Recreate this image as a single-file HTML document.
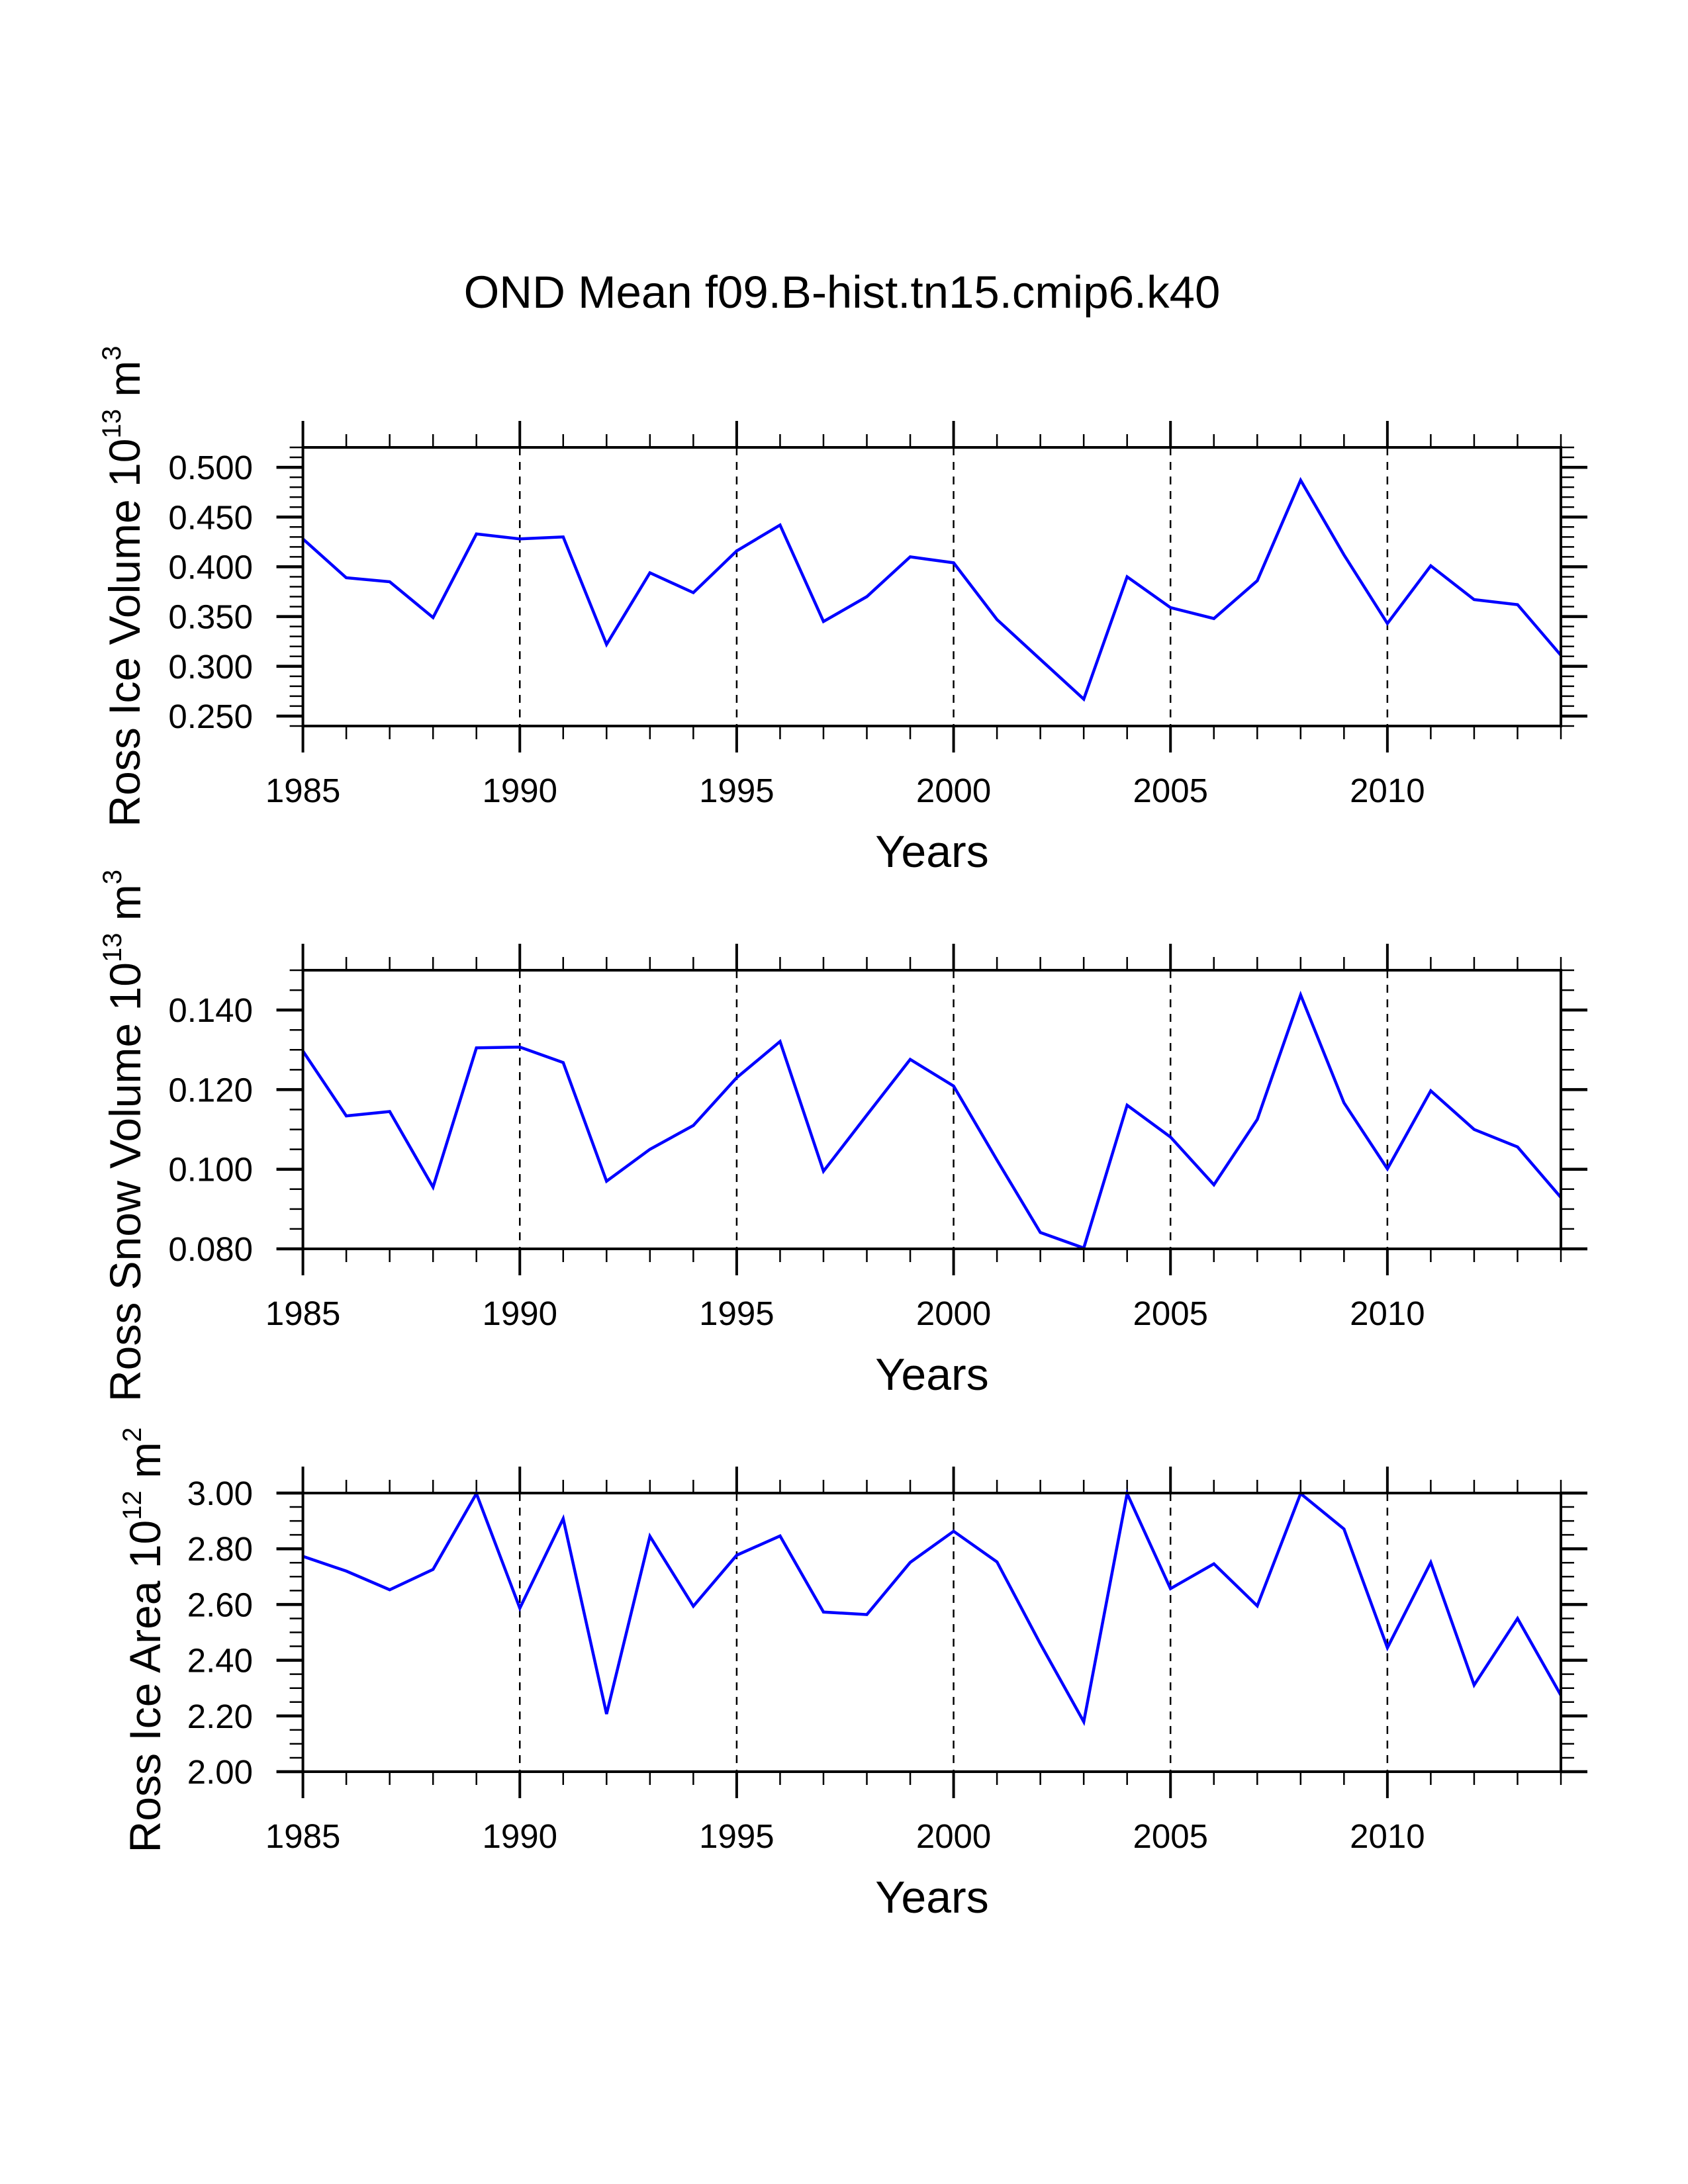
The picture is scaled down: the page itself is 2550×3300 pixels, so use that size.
<!DOCTYPE html>
<html>
<head>
<meta charset="utf-8">
<style>
html,body{margin:0;padding:0;background:#fff;}
svg{display:block;}
text{font-family:"Liberation Sans",Arial,sans-serif;fill:#000;}
</style>
</head>
<body>
<svg id="chart" width="2550" height="3300" viewBox="0 0 2550 3300" xmlns="http://www.w3.org/2000/svg">
<rect x="0" y="0" width="2550" height="3300" fill="#fff"/>
<text x="1272" y="465" font-size="69" text-anchor="middle">OND Mean f09.B-hist.tn15.cmip6.k40</text>
<text transform="translate(211,886) rotate(-90)" font-size="66" text-anchor="middle">Ross Ice Volume 10<tspan font-size="40" dy="-29">13</tspan><tspan dy="29"> m</tspan><tspan font-size="40" dy="-29">3</tspan></text>
<text transform="translate(212,1716) rotate(-90)" font-size="66" text-anchor="middle">Ross Snow Volume 10<tspan font-size="40" dy="-29">13</tspan><tspan dy="29"> m</tspan><tspan font-size="40" dy="-29">3</tspan></text>
<text transform="translate(242,2478) rotate(-90)" font-size="66" text-anchor="middle">Ross Ice Area 10<tspan font-size="40" dy="-29">12</tspan><tspan dy="29"> m</tspan><tspan font-size="40" dy="-29">2</tspan></text>
<text x="1408" y="1310" font-size="68" text-anchor="middle">Years</text>
<text x="1408" y="2100" font-size="68" text-anchor="middle">Years</text>
<text x="1408" y="2890" font-size="68" text-anchor="middle">Years</text>
</svg>
<script>
const years = [1985,1986,1987,1988,1989,1990,1991,1992,1993,1994,1995,1996,1997,1998,1999,2000,2001,2002,2003,2004,2005,2006,2007,2008,2009,2010,2011,2012,2013,2014];
const xTickLabels = ["1985","1990","1995","2000","2005","2010"];
const iceVolume = [0.428,0.389,0.385,0.349,0.433,0.428,0.430,0.322,0.394,0.374,0.416,0.442,0.345,0.370,0.410,0.404,0.347,0.307,0.267,0.390,0.359,0.348,0.386,0.487,0.412,0.343,0.401,0.367,0.362,0.311];
const snowVolume = [0.1297,0.1134,0.1145,0.0955,0.1305,0.1307,0.1268,0.0970,0.1050,0.1110,0.1230,0.1321,0.0995,0.1136,0.1276,0.1209,0.1023,0.0841,0.0802,0.1161,0.1081,0.0961,0.1125,0.1438,0.1167,0.1001,0.1197,0.1100,0.1056,0.0929];
const iceArea = [2.773,2.720,2.653,2.726,2.998,2.587,2.908,2.207,2.845,2.594,2.777,2.846,2.573,2.564,2.751,2.863,2.753,2.459,2.179,2.998,2.657,2.746,2.595,2.998,2.871,2.445,2.751,2.311,2.550,2.274];
const iceVolumeTicks = ["0.250","0.300","0.350","0.400","0.450","0.500"];
const snowVolumeTicks = ["0.080","0.100","0.120","0.140"];
const iceAreaTicks = ["2.00","2.20","2.40","2.60","2.80","3.00"];

const svg = document.getElementById('chart');
const NS = 'http://www.w3.org/2000/svg';
const X0 = 457.6, X1 = 2358, YR0 = 1985, YR1 = 2014;
function xScale(yr){ return X0 + (yr - YR0) / (YR1 - YR0) * (X1 - X0); }

function mk(tag, attrs){
  const e = document.createElementNS(NS, tag);
  for (const k in attrs) e.setAttribute(k, attrs[k]);
  return e;
}

function panel(cfg){
  const g = mk('g', {});
  
  
  svg.appendChild(g);
  const yScale = v => cfg.bottom - (v - cfg.ymin) / (cfg.ymax - cfg.ymin) * (cfg.bottom - cfg.top);

  for (let yr = 1990; yr <= 2010; yr += 5){
    const l = mk('line', {x1:xScale(yr), x2:xScale(yr), y1:cfg.top, y2:cfg.bottom, stroke:'#000', 'stroke-width':2.5, 'stroke-dasharray':'12 10'});
    
    
    g.appendChild(l);
  }
  for (let yr = YR0; yr <= YR1; yr++){
    const major = (yr % 5 === 0);
    const len = major ? 40 : 20, w = major ? 4 : 2.5;
    const x = xScale(yr);
    const t1 = mk('line', {x1:x, x2:x, y1:cfg.top, y2:cfg.top - len, stroke:'#000', 'stroke-width':w});
    
    
    g.appendChild(t1);
    const t2 = mk('line', {x1:x, x2:x, y1:cfg.bottom, y2:cfg.bottom + len, stroke:'#000', 'stroke-width':w});
    
    
    g.appendChild(t2);
  }
  xTickLabels.forEach(lab => {
    const t = mk('text', {x:xScale(+lab), y:cfg.bottom + 115, 'font-size':51, 'text-anchor':'middle'});
    t.textContent = lab;
    
    
    g.appendChild(t);
  });
  const nMinor = Math.round((cfg.ymax - cfg.ymin) / cfg.minor);
  const per = Math.round(cfg.major / cfg.minor);
  const majOff = Math.round((cfg.firstMajor - cfg.ymin) / cfg.minor);
  for (let i = 0; i <= nMinor; i++){
    const v = cfg.ymin + i * cfg.minor;
    const y = yScale(v);
    const major = ((i - majOff) % per === 0) && i >= majOff;
    const len = major ? 40 : 20, w = major ? 4.5 : 2.5;
    const a = mk('line', {x1:X0, x2:X0 - len, y1:y, y2:y, stroke:'#000', 'stroke-width':w});
    
    
    g.appendChild(a);
    const b = mk('line', {x1:X1, x2:X1 + len, y1:y, y2:y, stroke:'#000', 'stroke-width':w});
    
    
    g.appendChild(b);
  }
  cfg.labels.forEach(lab => {
    const t = mk('text', {x:382, y:yScale(+lab) + 18, 'font-size':51, 'text-anchor':'end'});
    t.textContent = lab;
    
    
    g.appendChild(t);
  });
  const pts = cfg.values.map((v, i) => xScale(years[i]).toFixed(1) + ',' + yScale(v).toFixed(1)).join(' ');
  const pl = mk('polyline', {points:pts, fill:'none', stroke:'#0000ff', 'stroke-width':4.5, 'stroke-linejoin':'miter'});
  
  
  g.appendChild(pl);
  const fr = mk('rect', {x:X0, y:cfg.top, width:X1 - X0, height:cfg.bottom - cfg.top, fill:'none', stroke:'#000', 'stroke-width':4});
  
  
  g.appendChild(fr);
}

panel({name:'ice-volume-panel', top:676, bottom:1097, ymin:0.24, ymax:0.52, firstMajor:0.25, major:0.05, minor:0.01, labels:iceVolumeTicks, values:iceVolume});
panel({name:'snow-volume-panel', top:1466, bottom:1887, ymin:0.08, ymax:0.15, firstMajor:0.08, major:0.02, minor:0.005, labels:snowVolumeTicks, values:snowVolume});
panel({name:'ice-area-panel', top:2256, bottom:2677, ymin:2.0, ymax:3.0, firstMajor:2.0, major:0.2, minor:0.05, labels:iceAreaTicks, values:iceArea});
</script>
</body>
</html>
